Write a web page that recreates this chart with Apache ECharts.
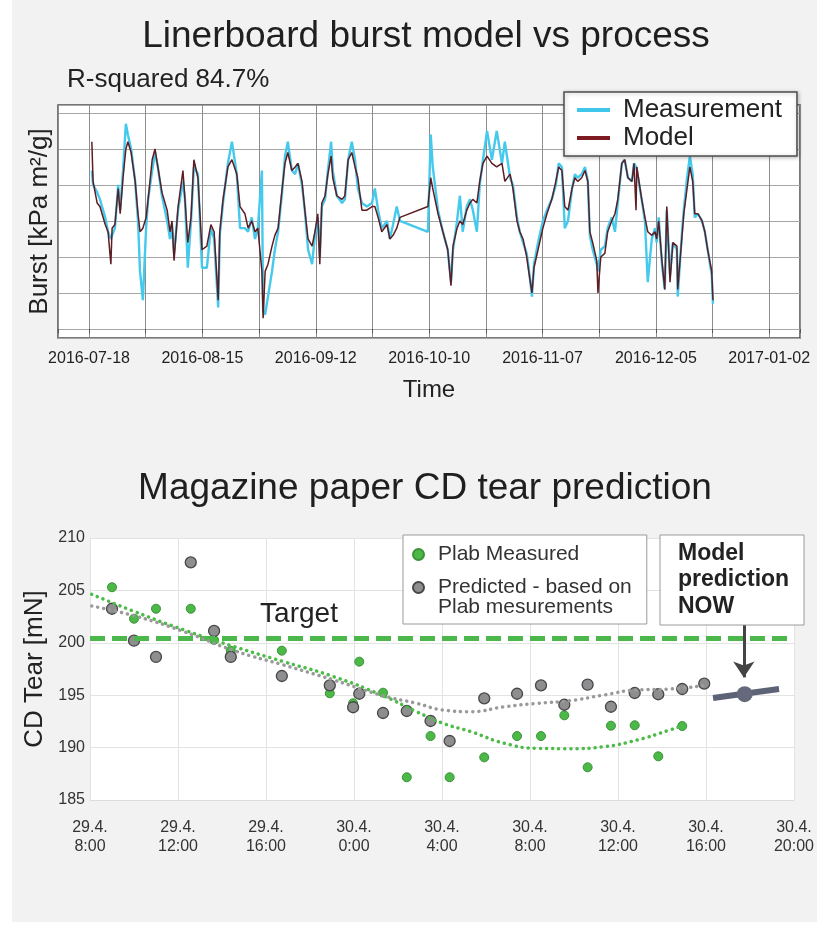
<!DOCTYPE html>
<html>
<head>
<meta charset="utf-8">
<title>Linerboard burst / CD tear</title>
<script src="https://cdn.jsdelivr.net/npm/echarts@6/dist/echarts.min.js"></script>
<style>
  html, body { margin: 0; padding: 0; background: #fff; }
  #wrap { position: relative; width: 817px; height: 937px; }
  #panel { position: absolute; left: 12px; top: 0; width: 805px; height: 922px; background: #f2f2f2; }
  #chart { position: absolute; left: 0; top: 0; width: 817px; height: 937px; }
</style>
</head>
<body>
<div id="wrap"><div id="panel"></div><div id="chart"></div></div>
<script>
// ---- top chart: burst, days since 2016-07-18 ----
const burstTickLabels = ['2016-07-18', '2016-08-15', '2016-09-12', '2016-10-10', '2016-11-07', '2016-12-05', '2017-01-02'];
const burstDay = [
  0.7, 1.0, 2.0, 2.7, 4.0, 4.7, 5.4, 5.7, 6.4, 7.2,
  7.7, 8.4, 9.1, 9.6, 10.4, 11.4, 12.1, 12.6, 13.3, 14.1,
  14.6, 15.6, 16.3, 17.0, 18.0, 19.3, 20.0, 20.5, 21.0, 22.0,
  23.2, 23.7, 24.4, 25.2, 25.9, 26.9, 27.9, 29.1, 30.1, 30.9,
  31.9, 32.3, 33.1, 34.3, 35.3, 36.5, 37.3, 38.5, 39.3, 40.2,
  41.0, 41.7, 42.7, 43.0, 43.5, 44.2, 45.2, 45.9, 46.7, 47.7,
  48.4, 49.1, 50.1, 50.9, 51.6, 52.6, 53.3, 54.1, 55.1, 55.8,
  56.5, 57.0, 57.5, 58.3, 59.0, 59.8, 60.2, 61.2, 62.5, 63.2,
  64.0, 64.9, 65.7, 66.4, 67.4, 68.6, 69.9, 70.6, 71.4, 72.3,
  73.6, 74.3, 75.1, 76.0, 76.8, 83.7, 84.4, 84.9, 86.2, 87.4,
  88.6, 89.4, 89.9, 90.9, 91.6, 92.3, 93.3, 94.1, 94.8, 95.8,
  96.5, 97.3, 98.3, 99.5, 100.7, 102.0, 102.7, 104.0, 104.7, 105.7,
  106.4, 107.2, 108.1, 108.6, 109.4, 109.9, 110.9, 112.1, 113.1, 114.3,
  115.3, 116.0, 116.8, 117.5, 118.3, 119.3, 120.0, 120.7, 121.7, 122.5,
  123.2, 123.7, 124.4, 125.4, 125.7, 126.4, 127.4, 128.1, 129.1, 129.9,
  130.6, 131.6, 132.3, 133.1, 134.1, 134.6, 135.1, 135.3, 136.5, 137.3,
  138.0, 139.0, 139.8, 140.2, 140.7, 141.5, 142.2, 142.7, 143.5, 144.2,
  145.2, 145.4, 146.4, 146.9, 147.7, 148.4, 149.1, 149.6, 150.4, 151.4,
  152.1, 152.8, 153.8, 154.1
];
const burstModel = [
  52, 41, 35, 34, 29, 27, 18, 28, 29, 39,
  32, 42, 50, 52, 49, 41, 32, 27, 28, 31,
  36, 47, 50, 45, 38, 33, 27, 30, 19, 34,
  44, 36, 24, 31, 47, 42, 22, 23, 29, 27,
  8, 27, 36, 45, 47, 43, 34, 32, 28, 30,
  27, 28, 16, 3, 16, 18, 23, 26, 28, 39,
  46, 49, 44, 45, 46, 41, 33, 25, 23, 27,
  32, 18, 35, 37, 43, 48, 42, 37, 36, 37,
  47, 49, 45, 42, 33, 33, 34, 34, 31, 27,
  29, 25, 26, 28, 31, 34, 42, 39, 32, 27,
  22, 12, 23, 28, 30, 29, 33, 35, 36, 35,
  41, 46, 48, 46, 45, 46, 41, 43, 39, 30,
  27, 25, 20, 16, 10, 17, 22, 28, 32, 36,
  41, 45, 44, 34, 33, 39, 42, 41, 42, 44,
  41, 27, 24, 19, 10, 20, 21, 27, 30, 32,
  36, 46, 47, 42, 41, 46, 33, 45, 36, 31,
  27, 26, 27, 25, 30, 19, 11, 34, 13, 24,
  23, 11, 25, 32, 39, 45, 41, 32, 32, 30,
  27, 22, 16, 8
];
const burstMeasured = [
  44, 40, 38, 36, 31, 27, 25, 26, 28, 40,
  33, 44, 57, 54, 50, 41, 30, 16, 8, 28,
  36, 44, 49, 45, 37, 30, 25, 29, 21, 33,
  41, 36, 17, 30, 45, 43, 17, 17, 28, 25,
  6, 26, 35, 46, 52, 43, 28, 28, 27, 31,
  25, 28, 44, 5, 4, 9, 16, 22, 27, 38,
  48, 52, 44, 43, 46, 40, 33, 22, 18, 26,
  31, 20, 34, 36, 44, 52, 44, 37, 35, 36,
  47, 52, 47, 39, 35, 34, 35, 39, 33, 28,
  30, 25, 29, 34, 30, 27, 54, 45, 33, 27,
  22, 13, 22, 30, 37, 27, 34, 36, 33, 27,
  40, 47, 55, 47, 55, 46, 52, 42, 40, 31,
  27, 24, 21, 17, 9, 18, 24, 30, 33, 36,
  40, 46, 45, 28, 30, 39, 43, 42, 43, 45,
  41, 26, 22, 18, 16, 22, 23, 28, 31, 27,
  35, 46, 47, 42, 41, 46, 45, 44, 36, 30,
  13, 25, 28, 24, 31, 18, 11, 33, 15, 24,
  22, 9, 26, 33, 42, 48, 43, 31, 32, 30,
  27, 22, 15, 7
];

// ---- bottom chart: CD tear, x in 4-hour label steps ----
const tearTickLabels = ['29.4.\n8:00', '29.4.\n12:00', '29.4.\n16:00', '30.4.\n0:00', '30.4.\n4:00',
  '30.4.\n8:00', '30.4.\n12:00', '30.4.\n16:00', '30.4.\n20:00'];
const tearTime = [0.25, 0.5, 0.75, 1.145, 1.41, 1.6, 2.18, 2.725, 2.99, 3.06, 3.33, 3.6,
  3.87, 4.087, 4.48, 4.853, 5.125, 5.39, 5.655, 5.92, 6.19, 6.458, 6.73, 6.98];
const plabMeasured = [205.3, 202.3, 203.25, 203.25, 200.27, 199.25, 199.25, 195.18, 194.23, 198.2, 195.24, 187.17,
  191.1, 187.17, 189.07, 191.1, 191.1, 193.08, 188.12, 192.09, 192.13, 189.17, 192.06, null];
const predicted = [203.25, 200.2, 198.65, 207.68, 201.13, 198.65, 196.83, 195.94, 193.85, 195.14, 193.3, 193.49,
  192.54, 190.63, 194.7, 195.14, 195.94, 194.09, 196.0, 193.9, 195.21, 195.09, 195.59, 196.1];
const plabTrendX = [0.02, 0.51, 1.07, 1.64, 2.2, 2.77, 3.33, 3.71, 4.01, 4.33, 4.71, 5.09, 5.46, 5.84, 6.22, 6.59, 6.72];
const plabTrendY = [204.63, 202.97, 201.22, 199.63, 198.2, 196.77, 194.95, 193.43, 192.32, 191.52, 190.41, 189.93,
  189.9, 190.09, 190.73, 191.68, 192.06];
const predTrendX = [0.02, 0.51, 1.07, 1.64, 2.2, 2.77, 3.33, 3.71, 4.01, 4.33, 4.71, 5.09, 5.46, 5.84, 6.22, 6.59, 6.98];
const predTrendY = [203.51, 202.56, 201.06, 199.25, 197.88, 196.45, 194.95, 194.23, 193.59, 193.43, 193.9, 194.23,
  194.48, 195.02, 195.5, 195.59, 195.93];
const tearTarget = 200.4;
const nowLineX = [7.08, 7.83];
const nowLineY = [194.73, 195.59];
const nowPoint = [7.44, 195.1];
const arrowFrom = [7.43, 201.7];
const arrowTo = [7.43, 196.7];

const FONT = '"Liberation Sans", Arial, Helvetica, sans-serif';
const zip = (xs, ys) => xs.map((x, i) => [x, ys[i]]);
const PRED_NAME = 'Predicted - based on\nPlab mesurements';

const chart = echarts.init(document.getElementById('chart'), null, { renderer: 'canvas' });

const option = {
  animation: false,
  backgroundColor: 'transparent',
  textStyle: { fontFamily: FONT },
  graphic: [
    { type: 'text', x: 426, y: 37, z: 50,
      style: { text: 'Linerboard burst model vs process', font: '37px ' + FONT, fill: '#1f1f1f',
        align: 'center', verticalAlign: 'middle', textAlign: 'center', textVerticalAlign: 'middle' } },
    { type: 'text', x: 67, y: 80, z: 50,
      style: { text: 'R-squared 84.7%', font: '26px ' + FONT, fill: '#222',
        verticalAlign: 'middle', textVerticalAlign: 'middle' } },
    { type: 'text', x: 425, y: 489, z: 50,
      style: { text: 'Magazine paper CD tear prediction', font: '37px ' + FONT, fill: '#1f1f1f',
        align: 'center', verticalAlign: 'middle', textAlign: 'center', textVerticalAlign: 'middle' } },
    { type: 'text', x: 299, y: 614, z: 50,
      style: { text: 'Target', font: '28px ' + FONT, fill: '#222',
        align: 'center', verticalAlign: 'middle', textAlign: 'center', textVerticalAlign: 'middle' } },
    { type: 'rect', z: 50, shape: { x: 660, y: 535, width: 144, height: 90 },
      style: { fill: '#fff', stroke: '#9a9a9a', lineWidth: 1 } },
    { type: 'text', x: 678, y: 540, z: 51,
      style: { text: 'Model\nprediction\nNOW', font: 'bold 23px ' + FONT, lineHeight: 26.5, fill: '#222' } }
  ],
  legend: [
    {
      data: ['Measurement', 'Model'],
      orient: 'vertical', left: 564, top: 92,
      icon: 'rect', itemWidth: 33, itemHeight: 4, itemGap: 0,
      padding: [4, 15, 4, 13],
      backgroundColor: '#fff', borderColor: '#4d4d4d', borderWidth: 1.5,
      shadowBlur: 4, shadowColor: 'rgba(0,0,0,0.25)', shadowOffsetX: 1, shadowOffsetY: 1,
      textStyle: { fontSize: 26, lineHeight: 28, color: '#222', padding: [0, 0, 0, 8] },
      selectedMode: false
    },
    {
      data: ['Plab Measured', PRED_NAME],
      // leading blank line keeps the icon level with the first text line
      formatter: (name) => (name === PRED_NAME ? '\n' + name : name),
      orient: 'vertical', left: 403, top: 535,
      icon: 'circle', itemWidth: 11, itemHeight: 11, itemGap: -8,
      padding: [9, 15, 6, 9],
      backgroundColor: '#fff', borderColor: '#9a9a9a', borderWidth: 1,
      textStyle: { fontSize: 21, lineHeight: 20, color: '#333', padding: [0, 0, 0, 9] },
      selectedMode: false
    }
  ],
  grid: [
    { left: 58, top: 105, width: 742, height: 233, show: true,
      backgroundColor: '#fff', borderColor: '#4d4d4d', borderWidth: 1.5 },
    { left: 90, top: 538, width: 708, height: 262, show: true,
      backgroundColor: '#fff', borderWidth: 0 }
  ],
  xAxis: [
    {
      type: 'value', gridIndex: 0,
      min: -7.66 / 14, max: 175.6 / 14, splitNumber: 13,
      axisLine: { show: false },
      axisTick: { show: true, length: 4, lineStyle: { color: '#555' } },
      axisLabel: {
        fontSize: 16, color: '#222', margin: 13,
        formatter: (v) => {
          const i = Math.round(v);
          if (Math.abs(v - i) > 1e-6 || i % 2 !== 0) return '';
          return burstTickLabels[i / 2] || '';
        }
      },
      splitLine: { show: true, lineStyle: { color: '#8c8c8c', width: 1 } },
      name: 'Time', nameLocation: 'middle', nameGap: 40,
      nameTextStyle: { fontSize: 24, color: '#222' }
    },
    {
      type: 'value', gridIndex: 1, min: 0, max: 8, interval: 1,
      axisLine: { show: true, lineStyle: { color: '#dcdcdc' } },
      axisTick: { show: false },
      axisLabel: {
        fontSize: 16, lineHeight: 19, color: '#333', margin: 18,
        formatter: (v) => tearTickLabels[Math.round(v)] || ''
      },
      splitLine: { show: true, lineStyle: { color: '#e3e3e3' } }
    }
  ],
  yAxis: [
    {
      type: 'value', gridIndex: 0, min: -2.5, max: 62.2,
      axisLabel: { show: false }, axisTick: { show: false }, axisLine: { show: false },
      splitLine: { show: true, lineStyle: { color: '#a6a6a6' } },
      name: 'Burst [kPa m²/g]', nameLocation: 'middle', nameGap: 5,
      nameTextStyle: { fontSize: 26, color: '#222' }
    },
    {
      type: 'value', gridIndex: 1, min: 185, max: 210, interval: 5,
      axisLine: { show: false }, axisTick: { show: false },
      axisLabel: { fontSize: 16, color: '#333', margin: 5 },
      splitLine: { show: true, lineStyle: { color: '#e3e3e3' } },
      name: 'CD Tear [mN]', nameLocation: 'middle', nameGap: 42,
      nameTextStyle: { fontSize: 26, color: '#222' }
    }
  ],
  series: [
    {
      name: 'Measurement', type: 'line', xAxisIndex: 0, yAxisIndex: 0,
      data: burstDay.map((d, i) => [d / 14, burstMeasured[i]]),
      symbol: 'none', z: 2,
      lineStyle: { color: '#45c9ec', width: 2.4 },
      itemStyle: { color: '#3fc6ea' }
    },
    {
      name: 'Model', type: 'line', xAxisIndex: 0, yAxisIndex: 0,
      data: burstDay.map((d, i) => [d / 14, burstModel[i]]),
      symbol: 'none', z: 3,
      lineStyle: { color: '#5e1d22', width: 1.5 },
      itemStyle: { color: '#7d1a22' }
    },
    {
      name: 'Plab Measured', type: 'scatter', xAxisIndex: 1, yAxisIndex: 1,
      data: zip(tearTime, plabMeasured).filter((p) => p[1] != null),
      symbolSize: 9, z: 3,
      itemStyle: { color: '#4cb848', borderColor: '#3b9338', borderWidth: 1, opacity: 1 },
      markLine: {
        silent: true, symbol: 'none', label: { show: false },
        lineStyle: { color: '#4cb84c', width: 5, type: [15, 7] },
        data: [{ yAxis: tearTarget }]
      }
    },
    {
      name: PRED_NAME, type: 'scatter', xAxisIndex: 1, yAxisIndex: 1,
      data: zip(tearTime, predicted),
      symbolSize: 11, z: 4,
      itemStyle: { color: '#8e8e90', borderColor: '#474747', borderWidth: 1.3, opacity: 1 }
    },
    {
      name: 'plabTrend', type: 'line', xAxisIndex: 1, yAxisIndex: 1,
      data: zip(plabTrendX, plabTrendY), smooth: true, symbol: 'none', silent: true, z: 5,
      lineStyle: { color: '#4cbb48', width: 3.5, type: [0.1, 6], cap: 'round' }
    },
    {
      name: 'predTrend', type: 'line', xAxisIndex: 1, yAxisIndex: 1,
      data: zip(predTrendX, predTrendY), smooth: true, symbol: 'none', silent: true, z: 5,
      lineStyle: { color: '#9a9a9a', width: 3.5, type: [0.1, 6], cap: 'round' }
    },
    {
      name: 'nowLine', type: 'line', xAxisIndex: 1, yAxisIndex: 1,
      data: zip(nowLineX, nowLineY), symbol: 'none', silent: true, z: 6,
      lineStyle: { color: '#5d6376', width: 6 }
    },
    {
      name: 'nowPoint', type: 'scatter', xAxisIndex: 1, yAxisIndex: 1,
      data: [nowPoint], symbolSize: 16, z: 7,
      itemStyle: { color: '#646a7c', opacity: 1 },
      markLine: {
        silent: true, symbol: ['none', 'arrow'], symbolSize: [16, 16],
        label: { show: false },
        lineStyle: { color: '#444', width: 3, type: 'solid' },
        data: [[{ coord: arrowFrom }, { coord: arrowTo }]]
      }
    }
  ]
};

chart.setOption(option);
</script>
</body>
</html>
